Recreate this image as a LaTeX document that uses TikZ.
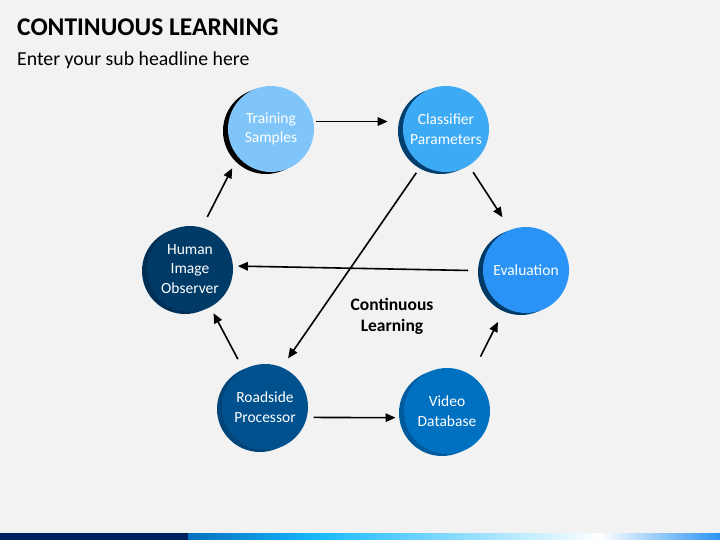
\documentclass[tikz,border=0pt]{standalone}
\usepackage{fontspec}
\setmainfont{Carlito}
\usetikzlibrary{shadows, arrows.meta}

\definecolor{bgcol}{HTML}{F2F2F2}
\definecolor{navy}{HTML}{002060}
\definecolor{trainfill}{HTML}{80C5FA}
\definecolor{classfill}{HTML}{3DAAF5}
\definecolor{classshade}{HTML}{003F6E}
\definecolor{evalfill}{HTML}{2A93F5}
\definecolor{evalshade}{HTML}{003A66}
\definecolor{videofill}{HTML}{0070C0}
\definecolor{videoshade}{HTML}{005A9E}
\definecolor{roadfill}{HTML}{00518E}
\definecolor{roadshade}{HTML}{004478}
\definecolor{humanfill}{HTML}{003A66}
\definecolor{humanshade}{HTML}{002F55}

\begin{document}
\begin{tikzpicture}[x=1pt, y=-1pt,
    stage/.style={circle, minimum size=86pt, inner sep=0pt, outer sep=0pt, align=center,
        text=white, font=\fontsize{15.5}{19.5}\selectfont},
    moon/.style={drop shadow={shadow xshift=-5pt, shadow yshift=-2pt, fill=#1, opacity=1}},
    arr/.style={-{Triangle[length=10pt, width=8.5pt]}, line width=1.6pt},
]
    % Background
    \fill[bgcol] (0,0) rectangle (720,540);
    \useasboundingbox (0,0) rectangle (720,540);
    \fill[navy] (0,533) rectangle (188,540);
    \shade[left color=videofill, right color=cyan!70!blue!90] (188,533) rectangle (321,540);
    \shade[left color=cyan!70!blue!90, right color=white] (320,533) rectangle (600,540);
    \shade[left color=white, right color=evalfill] (599,533) rectangle (720,540);

    % Titles
    \node[anchor=base west, inner sep=0pt, font=\fontsize{25.5}{30}\selectfont\bfseries] (Title) at (17,36) {CONTINUOUS LEARNING};
    \node[anchor=base west, inner sep=0pt, font=\fontsize{19.8}{24}\selectfont] (Sub) at (17,66) {Enter your sub headline here};

    % Nodes
    \node[stage, fill=trainfill, moon=black] (Train) at (271,129) {Training\\Samples};
    \node[stage, fill=classfill, moon=classshade] (Class) at (446,129) {Classifier\\Parameters};
    \node[stage, fill=evalfill, moon=evalshade] (Eval) at (526,270) {Evaluation};
    \node[stage, fill=videofill, moon=videoshade] (Video) at (447,411) {Video\\Database};
    \node[stage, fill=roadfill, moon=roadshade] (Road) at (265,407) {Roadside\\Processor};
    \node[stage, fill=humanfill, moon=humanshade] (Human) at (190,269) {Human\\Image\\Observer};

    \node[align=center, font=\fontsize{17.5}{21}\selectfont\bfseries] (Loop) at (392,316) {Continuous\\Learning};

    % Lines
    \draw[arr, shorten <=3pt, shorten >=16pt] (Train.10) -- (Class.170);
    \draw[arr, shorten <=8pt, shorten >=15pt] (Class.302) -- (Eval.111);
    \draw[arr, shorten <=15pt, shorten >=5pt] (Eval.181) -- (Human.4);
    \draw[arr, shorten <=21pt, shorten >=16pt] (Video.56) -- (Eval.241);
    \draw[arr, shorten <=7pt, shorten >=9pt] (Road.346) -- (Video.189);
    \draw[arr, shorten <=12pt, shorten >=7pt] (Road.120) -- (Human.298);
    \draw[arr, shorten <=10pt, shorten >=11pt] (Class.236) -- (Road.67);
    \draw[arr, shorten <=12pt, shorten >=13pt] (Human.74) -- (Train.220);

\end{tikzpicture}
\end{document}
